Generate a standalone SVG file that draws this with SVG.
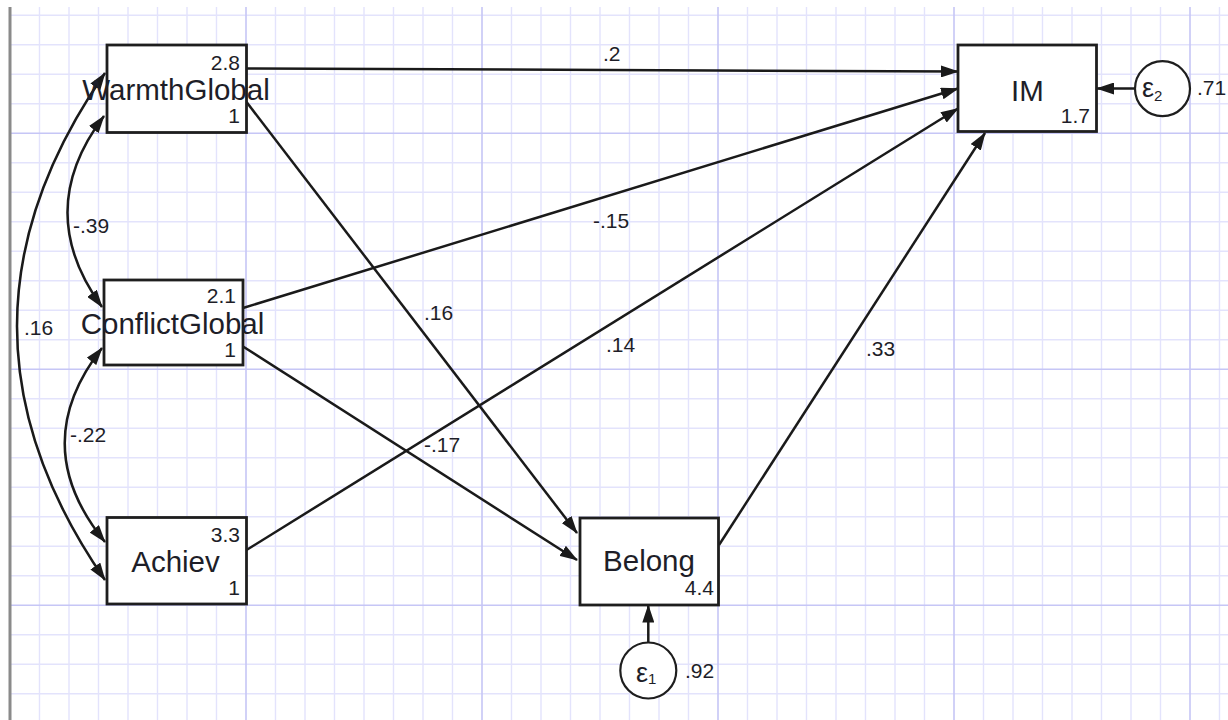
<svg xmlns="http://www.w3.org/2000/svg" width="1228" height="720" viewBox="0 0 1228 720">
<style>
.minor{stroke:#e3e3fc;stroke-width:1.4;fill:none}
.major{stroke:#c6c6f6;stroke-width:1.6;fill:none}
.box{fill:#ffffff;stroke:#1e1e1e;stroke-width:2.8}
.circ{fill:#ffffff;stroke:#1e1e1e;stroke-width:2.2}
.edge{stroke:#1a1a1a;stroke-width:2.5;fill:none}
.lbl{font-family:"Liberation Sans",Arial,sans-serif;font-size:29.5px;fill:#1e1e28;text-anchor:middle}
.num{font-family:"Liberation Sans",Arial,sans-serif;font-size:21px;fill:#1e1e28;text-anchor:end}
.elbl{font-family:"Liberation Sans",Arial,sans-serif;font-size:21px;fill:#1e1e28}
.eps{font-family:"Liberation Sans",Arial,sans-serif;font-size:27px;fill:#1e1e28}
.sub{font-size:15px}
</style>
<defs>
<marker id="ah" viewBox="0 0 18 12" refX="17" refY="6" markerWidth="18" markerHeight="12" markerUnits="userSpaceOnUse" orient="auto-start-reverse">
<path d="M0,0 L18,6 L0,12 z" fill="#1a1a1a"/>
</marker>
</defs>
<rect x="0" y="0" width="1228" height="720" fill="#ffffff"/>
<g id="grid">
<path class="minor" d="M39.5,7V720M69,7V720M98.5,7V720M128,7V720M157.5,7V720M187,7V720M216.5,7V720M275.5,7V720M305,7V720M334.5,7V720M364,7V720M393.5,7V720M423,7V720M452.5,7V720M511.5,7V720M541,7V720M570.5,7V720M600,7V720M629.5,7V720M659,7V720M688.5,7V720M747.5,7V720M777,7V720M806.5,7V720M836,7V720M865.5,7V720M895,7V720M924.5,7V720M983.5,7V720M1013,7V720M1042.5,7V720M1072,7V720M1101.5,7V720M1131,7V720M1160.5,7V720M1219.5,7V720
M10,15.3H1228M10,44.8H1228M10,74.3H1228M10,103.8H1228M10,162.8H1228M10,192.3H1228M10,221.8H1228M10,251.3H1228M10,280.8H1228M10,310.3H1228M10,339.8H1228M10,398.8H1228M10,428.3H1228M10,457.8H1228M10,487.3H1228M10,516.8H1228M10,546.3H1228M10,575.8H1228M10,634.8H1228M10,664.3H1228M10,693.8H1228"/>
<path class="major" d="M246,7V720M482,7V720M718,7V720M954,7V720M1190,7V720M10,133.3H1228M10,369.3H1228M10,605.3H1228"/>
<path d="M10,7V720" stroke="#8a8a8a" stroke-width="3"/>
</g>
<g id="connectors">
<path class="edge" marker-end="url(#ah)" d="M246.5,68.5L958,71.5"/>
<path class="edge" marker-end="url(#ah)" d="M245,100L577,533"/>
<path class="edge" marker-end="url(#ah)" d="M243,308L958,88.5"/>
<path class="edge" marker-end="url(#ah)" d="M243,346.5L577,560"/>
<path class="edge" marker-end="url(#ah)" d="M246.5,550L958,108.5"/>
<path class="edge" marker-end="url(#ah)" d="M719,545L985,133"/>
<path class="edge" marker-end="url(#ah)" d="M1135,88.5L1097,88.5"/>
<path class="edge" marker-end="url(#ah)" d="M648.3,642.5L648.3,605.5"/>
<path class="edge" marker-start="url(#ah)" marker-end="url(#ah)" d="M104,116Q32,211 102,307"/>
<path class="edge" marker-start="url(#ah)" marker-end="url(#ah)" d="M102,348Q26,445 105,542"/>
<path class="edge" marker-start="url(#ah)" marker-end="url(#ah)" d="M105,73Q-71,326 105,580"/>
<text class="elbl" x="603" y="61">.2</text>
<text class="elbl" x="424" y="320">.16</text>
<text class="elbl" x="593" y="228">-.15</text>
<text class="elbl" x="424" y="452">-.17</text>
<text class="elbl" x="606" y="352">.14</text>
<text class="elbl" x="866" y="356">.33</text>
<text class="elbl" x="73" y="233">-.39</text>
<text class="elbl" x="70" y="442">-.22</text>
<text class="elbl" x="24" y="335">.16</text>
</g>
<g id="WarmthGlobal">
<rect class="box" x="107" y="45" width="139.5" height="87.5"/>
<text class="num" x="240" y="70">2.8</text>
<text class="lbl" x="176" y="100">WarmthGlobal</text>
<text class="num" x="240" y="123">1</text>
</g>
<g id="ConflictGlobal">
<rect class="box" x="104" y="280" width="139" height="85"/>
<text class="num" x="236" y="303">2.1</text>
<text class="lbl" x="172.5" y="334">ConflictGlobal</text>
<text class="num" x="236" y="357">1</text>
</g>
<g id="Achiev">
<rect class="box" x="107" y="517.5" width="139.5" height="86.5"/>
<text class="num" x="240" y="541.5">3.3</text>
<text class="lbl" x="175.5" y="571.5">Achiev</text>
<text class="num" x="240" y="595">1</text>
</g>
<g id="IM">
<rect class="box" x="958" y="45" width="138.5" height="86.5"/>
<text class="lbl" x="1027.5" y="100.5">IM</text>
<text class="num" x="1090" y="122.5">1.7</text>
</g>
<g id="Belong">
<rect class="box" x="580" y="518" width="138.5" height="87"/>
<text class="lbl" x="649" y="570.5">Belong</text>
<text class="num" x="714" y="595">4.4</text>
</g>
<g id="e2">
<circle class="circ" cx="1162.5" cy="88.7" r="27.5"/>
<text class="eps" x="1142" y="97">ε<tspan class="sub" dy="4">2</tspan></text>
<text class="elbl" x="1197" y="95">.71</text>
</g>
<g id="e1">
<circle class="circ" cx="648.3" cy="670.5" r="28"/>
<text class="eps" x="636" y="681.5">ε<tspan class="sub" dy="2">1</tspan></text>
<text class="elbl" x="685" y="678">.92</text>
</g>
</svg>
